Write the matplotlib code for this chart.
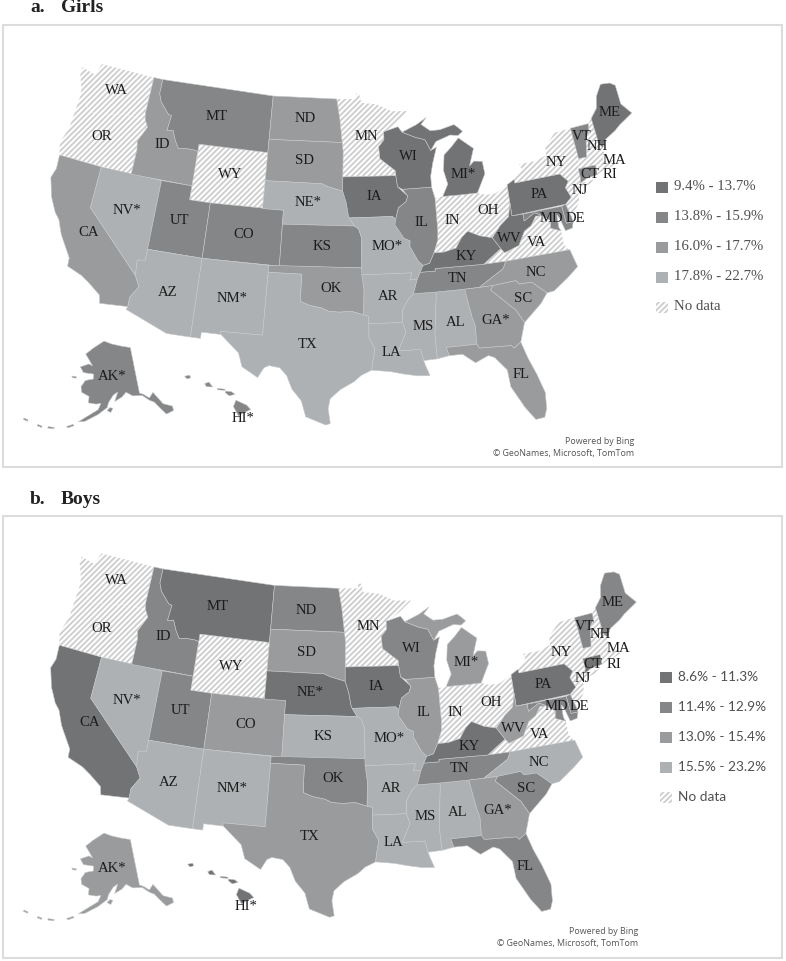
import numpy as np
import matplotlib
matplotlib.use("Agg")
import matplotlib.pyplot as plt
from matplotlib.patches import Polygon, Rectangle

plt.rcParams["hatch.linewidth"] = 1.3

# State outlines (lon, lat)
WA = [(-124.7,48.4),(-123.2,48.15),(-122.8,49.0),(-117.03,49.0),(-117.04,46.42),(-116.92,45.99),(-118.98,46.0),(-119.3,45.93),(-121.2,45.65),(-122.3,45.55),(-122.75,45.65),(-123.4,46.2),(-124.0,46.25),(-124.1,46.9),(-124.7,47.9)]
OR = [(-124.0,46.25),(-123.4,46.2),(-122.75,45.65),(-122.3,45.55),(-121.2,45.65),(-119.3,45.93),(-118.98,46.0),(-116.92,45.99),(-116.5,45.5),(-117.2,44.4),(-117.03,43.8),(-117.03,42.0),(-124.2,42.0),(-124.55,42.85),(-124.1,44.0)]
CA = [(-124.2,42.0),(-120.0,42.0),(-120.0,39.0),(-114.63,35.0),(-114.13,34.26),(-114.72,33.4),(-114.72,32.72),(-117.12,32.53),(-117.3,33.1),(-118.4,33.75),(-119.2,34.15),(-120.6,34.55),(-120.65,35.15),(-121.9,36.6),(-122.5,37.6),(-123.0,38.0),(-123.75,39.0),(-124.35,40.3),(-124.1,41.0)]
NV = [(-120,42),(-114.04,42),(-114.04,36.2),(-114.75,36.1),(-114.63,35),(-120,39)]
ID = [(-117.03,49),(-116.05,49),(-116.05,48.0),(-115.7,47.45),(-114.7,46.7),(-114.35,46.65),(-114.5,45.55),(-113.9,45.65),(-113.45,44.95),(-113,44.45),(-112.3,44.55),(-111.5,44.55),(-111.05,44.48),(-111.05,42),(-117.03,42),(-117.03,43.8),(-117.2,44.4),(-116.5,45.5),(-116.92,45.99),(-117.04,46.42)]
MT = [(-116.05,49),(-104.05,49),(-104.05,45),(-111.05,45),(-111.05,44.48),(-111.5,44.55),(-112.3,44.55),(-113,44.45),(-113.45,44.95),(-113.9,45.65),(-114.5,45.55),(-114.35,46.65),(-114.7,46.7),(-115.7,47.45),(-116.05,48)]
WY = [(-111.05,45),(-104.05,45),(-104.05,41),(-111.05,41)]
UT = [(-114.04,42),(-111.05,42),(-111.05,41),(-109.05,41),(-109.05,37),(-114.04,37)]
CO = [(-109.05,41),(-102.05,41),(-102.05,37),(-109.05,37)]
AZ = [(-114.04,37),(-109.05,37),(-109.05,31.33),(-111.07,31.33),(-114.81,32.5),(-114.72,32.72),(-114.72,33.4),(-114.13,34.26),(-114.63,35),(-114.75,36.1),(-114.04,36.2)]
NM = [(-109.05,37),(-103.0,37),(-103.04,32),(-106.62,32),(-106.53,31.78),(-108.2,31.78),(-108.2,31.33),(-109.05,31.33)]
ND = [(-104.05,49),(-97.23,49),(-96.85,47.6),(-96.56,45.94),(-104.05,45.94)]
SD = [(-104.05,45.94),(-96.56,45.94),(-96.45,45.3),(-96.45,43.5),(-96.44,42.49),(-97.9,42.8),(-98.5,43.0),(-104.05,43)]
NE = [(-104.05,43),(-98.5,43),(-97.9,42.8),(-96.44,42.49),(-96.1,41.7),(-95.85,40.7),(-95.31,40),(-102.05,40),(-102.05,41),(-104.05,41)]
KS = [(-102.05,40),(-95.31,40),(-94.9,39.8),(-94.61,39.1),(-94.62,37),(-102.05,37)]
OK = [(-103,37),(-94.62,37),(-94.43,35.4),(-94.48,33.64),(-95.5,33.9),(-96.6,33.85),(-97.5,33.9),(-98.1,34.13),(-99.2,34.3),(-100,34.56),(-100,36.5),(-103,36.5)]
TX = [(-106.62,32),(-103.04,32),(-103,36.5),(-100,36.5),(-100,34.56),(-99.2,34.3),(-98.1,34.13),(-97.5,33.9),(-96.6,33.85),(-95.5,33.9),(-94.48,33.64),(-94.04,33.55),(-94.04,32),(-93.55,31.2),(-93.75,30.3),(-93.85,29.7),(-94.7,29.35),(-95.3,28.9),(-96.4,28.35),(-97.2,27.7),(-97.35,27.0),(-97.15,25.96),(-97.5,25.85),(-99.1,26.4),(-99.5,27.5),(-100.3,28.3),(-100.8,29.25),(-101.4,29.77),(-102.3,29.88),(-102.7,29.7),(-103.15,28.98),(-104.5,29.65),(-104.9,30.6),(-106.53,31.78)]
MN = [(-97.23,49),(-95.15,49),(-95.15,49.38),(-94.8,49.3),(-94.6,48.72),(-93.0,48.6),(-91.4,48.07),(-89.6,48.0),(-90.8,47.3),(-92.05,46.7),(-92.29,46.66),(-92.29,46.08),(-92.85,45.6),(-92.75,44.75),(-91.25,43.85),(-91.22,43.5),(-96.45,43.5),(-96.45,45.3),(-96.56,45.94),(-96.85,47.6)]
IA = [(-96.45,43.5),(-91.22,43.5),(-91.1,42.7),(-90.15,42.0),(-90.35,41.6),(-91.1,41.2),(-91.4,40.4),(-91.7,40.6),(-95.77,40.58),(-95.85,40.7),(-96.1,41.7),(-96.44,42.49)]
MO = [(-95.77,40.58),(-91.7,40.6),(-91.4,40.4),(-91.5,40.0),(-90.7,39.0),(-90.15,38.8),(-90.2,38.4),(-89.5,37.3),(-89.1,36.97),(-89.4,36.5),(-89.7,36),(-90.37,36),(-90.15,36.5),(-94.62,36.5),(-94.62,37),(-94.61,39.1),(-94.9,39.8),(-95.31,40)]
AR = [(-94.62,36.5),(-90.15,36.5),(-90.37,36),(-89.7,36),(-90.1,35.0),(-90.6,34.6),(-91.1,33.9),(-91.15,33.0),(-94.04,33.0),(-94.04,33.55),(-94.48,33.64),(-94.43,35.4)]
LA = [(-94.04,33),(-91.15,33),(-90.9,32.3),(-91.6,31),(-89.73,31),(-89.55,30.2),(-89.4,29.8),(-89.1,29.1),(-90.1,29.15),(-91.3,29.35),(-92.3,29.55),(-93.85,29.7),(-93.75,30.3),(-93.55,31.2),(-94.04,32)]
MS = [(-90.1,35.0),(-88.2,35),(-88.1,34.9),(-88.47,31.9),(-88.4,30.25),(-89.55,30.2),(-89.73,31),(-91.6,31),(-90.9,32.3),(-91.15,33),(-91.1,33.9),(-90.6,34.6)]
AL = [(-88.2,35),(-85.6,35),(-85.18,32.87),(-85.0,32.3),(-85.05,31),(-87.6,31),(-87.4,30.4),(-88.4,30.25),(-88.47,31.9),(-88.1,34.9)]
TN = [(-89.7,36),(-89.4,36.5),(-88.05,36.5),(-88.05,36.68),(-83.68,36.6),(-81.68,36.59),(-82.0,36.1),(-84.3,35.0),(-85.6,35),(-88.2,35),(-90.1,35)]
KY = [(-89.4,36.5),(-89.1,36.97),(-88.5,37.1),(-88.05,37.8),(-87.1,37.8),(-86.0,38.0),(-85.4,38.7),(-84.8,39.1),(-83.7,38.65),(-82.6,38.4),(-81.97,37.54),(-83.68,36.6),(-88.05,36.68),(-88.05,36.5)]
IL = [(-91.5,40),(-91.4,40.4),(-91.1,41.2),(-90.35,41.6),(-90.15,42.0),(-90.65,42.5),(-87.8,42.5),(-87.55,41.7),(-87.53,39.35),(-87.6,38.7),(-88.05,37.8),(-88.5,37.1),(-89.1,36.97),(-89.5,37.3),(-90.2,38.4),(-90.15,38.8),(-90.7,39.0)]
WI = [(-92.29,46.66),(-92.05,46.7),(-90.8,46.95),(-90.4,46.55),(-89.1,46.13),(-88.1,45.9),(-87.6,45.1),(-87.0,45.3),(-87.5,44.2),(-87.8,43.3),(-87.8,42.5),(-90.65,42.5),(-91.1,42.7),(-91.22,43.5),(-91.25,43.85),(-92.75,44.75),(-92.85,45.6),(-92.29,46.08)]
MI = [(-86.8,41.76),(-84.8,41.73),(-83.45,41.72),(-83.1,42.2),(-82.5,43.0),(-82.6,43.9),(-83.4,44.0),(-83.9,43.7),(-83.3,44.9),(-84.7,45.78),(-85.5,45.2),(-86.3,44.7),(-86.5,43.6),(-86.2,42.6)]
MI_UP = [(-90.4,46.55),(-89.1,46.13),(-88.1,45.9),(-87.6,45.1),(-87.0,45.7),(-85.5,46.05),(-84.7,45.95),(-84.2,46.2),(-84.6,46.5),(-85.0,46.75),(-86.5,46.5),(-87.5,46.5),(-88.4,47.0),(-87.8,47.45),(-88.9,47.0)]
IN = [(-87.53,41.7),(-86.8,41.76),(-84.8,41.73),(-84.8,39.1),(-85.4,38.7),(-86.0,38.0),(-87.1,37.8),(-88.05,37.8),(-87.6,38.7),(-87.53,39.35)]
OH = [(-84.8,41.73),(-83.45,41.72),(-82.7,41.5),(-81.7,41.5),(-80.52,41.98),(-80.52,40.64),(-80.85,39.7),(-81.7,39.2),(-82.6,38.4),(-83.7,38.65),(-84.8,39.1)]
PA = [(-80.52,41.98),(-79.76,42.27),(-79.76,42.0),(-75.35,42.0),(-74.7,41.36),(-75.1,40.95),(-74.75,40.2),(-75.4,39.8),(-80.52,39.72)]
NY = [(-79.76,42.0),(-79.76,42.27),(-78.9,42.9),(-79.05,43.27),(-77.5,43.27),(-76.3,43.5),(-76.2,44.1),(-75.0,44.95),(-73.35,45.0),(-73.3,44.0),(-73.25,42.75),(-73.5,42.05),(-73.5,41.3),(-73.65,41.0),(-72.0,41.05),(-72.5,40.85),(-74.0,40.6),(-74.0,41.0),(-74.7,41.36),(-75.35,42.0)]
VT = [(-73.35,45),(-71.5,45),(-71.6,44.5),(-72.05,44.1),(-72.45,42.73),(-73.25,42.75),(-73.3,44)]
NH = [(-71.5,45),(-71.08,45.3),(-70.98,43.4),(-70.7,43.07),(-70.8,42.87),(-72.45,42.73),(-72.05,44.1),(-71.6,44.5)]
ME = [(-71.08,45.3),(-70.3,45.9),(-70.0,46.7),(-69.25,47.45),(-68.3,47.35),(-67.8,47.07),(-67.8,45.7),(-67.0,44.85),(-68.5,44.3),(-69.1,44.0),(-70.2,43.6),(-70.7,43.07),(-70.98,43.4)]
MA = [(-73.5,42.05),(-73.25,42.75),(-72.45,42.73),(-70.8,42.87),(-70.6,42.65),(-71.0,42.3),(-70.6,41.95),(-70.05,42.05),(-69.95,41.7),(-70.65,41.55),(-71.12,41.5),(-71.38,42.02),(-71.8,42.02)]
CT = [(-73.5,42.05),(-71.8,42.02),(-71.85,41.32),(-72.9,41.25),(-73.65,41.0),(-73.5,41.3)]
RI = [(-71.8,42.02),(-71.38,42.02),(-71.12,41.5),(-71.85,41.32)]
NJ = [(-75.1,40.95),(-74.7,41.36),(-74.0,41.0),(-74.0,40.45),(-74.1,39.75),(-74.9,38.95),(-75.5,39.5),(-75.4,39.8),(-74.75,40.2)]
DE = [(-75.8,39.72),(-75.4,39.8),(-75.1,38.8),(-75.05,38.45),(-75.7,38.46)]
MD = [(-79.48,39.72),(-75.8,39.72),(-75.7,38.46),(-75.05,38.45),(-75.25,38.03),(-75.9,37.95),(-76.2,38.9),(-76.4,39.2),(-76.45,38.3),(-76.3,38.0),(-77.2,38.35),(-77.05,38.85),(-77.75,39.35),(-78.4,39.65),(-79.48,39.2)]
WV = [(-80.52,40.64),(-80.52,39.72),(-79.48,39.72),(-79.48,39.2),(-78.4,39.65),(-77.75,39.35),(-78.35,39.4),(-78.9,38.8),(-79.6,38.5),(-80.3,37.55),(-81.68,37.2),(-81.97,37.54),(-82.6,38.4),(-81.7,39.2),(-80.85,39.7)]
VA = [(-83.68,36.6),(-81.97,37.54),(-81.68,37.2),(-80.3,37.55),(-79.6,38.5),(-78.9,38.8),(-78.35,39.4),(-77.75,39.35),(-77.05,38.85),(-77.2,38.35),(-76.3,38.0),(-76.3,37.0),(-75.95,36.55),(-81.68,36.59)]
NC = [(-84.3,35),(-82.0,36.1),(-81.68,36.59),(-75.87,36.55),(-75.5,35.25),(-76.5,34.65),(-77.9,33.9),(-78.55,33.85),(-79.7,34.8),(-80.8,34.82),(-81.05,35.1),(-83.1,35.0)]
SC = [(-83.1,35),(-81.05,35.1),(-80.8,34.82),(-79.7,34.8),(-78.55,33.85),(-79.2,33.2),(-80.85,32.05),(-81.4,33.0),(-83.35,34.7)]
GA = [(-85.6,35),(-84.3,35),(-83.1,35),(-83.35,34.7),(-81.4,33.0),(-80.85,32.05),(-81.4,30.72),(-82.0,30.37),(-82.2,30.57),(-84.86,30.7),(-85.05,31),(-85.0,32.3),(-85.18,32.87)]
FL = [(-87.6,31),(-85.05,31),(-84.86,30.7),(-82.2,30.57),(-82.0,30.37),(-81.4,30.72),(-81.0,29.5),(-80.5,28.3),(-80.05,26.9),(-80.15,25.75),(-80.4,25.2),(-81.1,25.15),(-81.8,26.1),(-82.7,27.7),(-82.8,28.9),(-83.7,29.9),(-84.2,30.1),(-85.3,29.7),(-86.3,30.4),(-87.4,30.4)]
AK = [(-141,69.65),(-141,60.3),(-139.5,59.9),(-137.5,58.9),(-135.5,59.8),(-133,57),(-130,55.9),(-130.2,55.0),(-133,54.8),(-134.5,56.3),(-136,57.8),(-137.8,58.5),(-140,59.7),(-144,60.0),(-146.5,60.9),(-148.5,60.0),(-151.5,59.2),(-150.0,61.1),(-152,60.5),(-154,59),(-154.5,58.0),(-158,56.5),(-162.5,54.9),(-164.8,54.6),(-162,55.9),(-158,57.5),(-157,58.8),(-159,58.6),(-162,58.7),(-162,60),(-165.3,60.6),(-166,61.7),(-164.5,63.1),(-161,63.6),(-161,64.6),(-166,64.6),(-168,65.6),(-164,66.5),(-162,66.2),(-163.7,67.1),(-166.5,68.35),(-163,69.7),(-156.6,71.35),(-152,70.8),(-146,70.2)]
AK_ISLANDS = [
    [(-154.6,57.4),(-153.4,58.0),(-152.3,57.8),(-153.2,57.0)],
    [(-171,63.4),(-169,63.5),(-168.8,63.2),(-170.5,63.1)],
    [(-168.5,53.2),(-166.5,53.9),(-166,53.7),(-168,53.0)],
    [(-174.5,52.2),(-172.5,52.4),(-172.5,52.1),(-174.5,51.9)],
    [(-178,51.9),(-176.5,51.9),(-176.5,51.6),(-178,51.6)],
    [(177.0,52.0),(178.5,52.0),(178.5,51.7),(177.0,51.7)],
]
HI_BIG = [(-155.9,20.25),(-155.1,19.85),(-154.8,19.5),(-155.65,18.95),(-156.05,19.7)]
HI_MAUI = [(-156.7,21.0),(-156.25,20.95),(-156.0,20.75),(-156.4,20.6),(-156.7,20.85)]
HI_MOLOKAI = [(-157.3,21.2),(-156.75,21.15),(-156.75,21.05),(-157.3,21.08)]
HI_OAHU = [(-158.25,21.55),(-157.95,21.7),(-157.65,21.3),(-158.1,21.3)]
HI_KAUAI = [(-159.75,22.1),(-159.4,22.22),(-159.3,22.0),(-159.55,21.88)]

STATES = {
    "WA": [WA], "OR": [OR], "CA": [CA], "NV": [NV], "ID": [ID], "MT": [MT], "WY": [WY], "UT": [UT], "CO": [CO],
    "AZ": [AZ], "NM": [NM], "ND": [ND], "SD": [SD], "NE": [NE], "KS": [KS], "OK": [OK], "TX": [TX], "MN": [MN],
    "IA": [IA], "MO": [MO], "AR": [AR], "LA": [LA], "MS": [MS], "AL": [AL], "TN": [TN], "KY": [KY], "IL": [IL],
    "WI": [WI], "MI": [MI, MI_UP], "IN": [IN], "OH": [OH], "PA": [PA], "NY": [NY], "VT": [VT], "NH": [NH], "ME": [ME],
    "MA": [MA], "CT": [CT], "RI": [RI], "NJ": [NJ], "DE": [DE], "MD": [MD], "WV": [WV], "VA": [VA], "NC": [NC],
    "SC": [SC], "GA": [GA], "FL": [FL],
}

# Prevalence class of each state, darkest to lightest
girls_classes = [
    ["ME", "WI", "IA", "KY", "MI", "PA", "WV"],
    ["MT", "UT", "CO", "KS", "IL", "TN", "VT", "CT", "MD", "DE", "AK", "HI"],
    ["ID", "ND", "SD", "OK", "CA", "GA", "SC", "NC", "FL"],
    ["NV", "NE", "MO", "AR", "LA", "MS", "AL", "TX", "NM", "AZ"],
]
boys_classes = [
    ["MT", "CA", "NE", "IA", "KY", "PA", "CT", "HI"],
    ["ME", "VT", "ID", "UT", "ND", "FL", "WI", "SC", "TN", "OK", "MD", "DE"],
    ["AK", "SD", "CO", "TX", "MI", "IL", "WV", "GA"],
    ["NV", "AZ", "NM", "KS", "MO", "AR", "LA", "MS", "AL", "NC"],
]
no_data = ["WA", "OR", "MN", "WY", "IN", "OH", "NY", "VA", "NJ", "NH", "MA", "RI"]

girls_legend = ["9.4% - 13.7%", "13.8% - 15.9%", "16.0% - 17.7%", "17.8% - 22.7%", "No data"]
boys_legend = ["8.6% - 11.3%", "11.4% - 12.9%", "13.0% - 15.4%", "15.5% - 23.2%", "No data"]
starred_states = ["NV", "NE", "MO", "NM", "MI", "GA", "AK", "HI"]

girls_labels = {"WA":(116,91),"OR":(102,137),"MT":(217,117),"ND":(305,119),"MN":(366,136),"ID":(162,145),"SD":(305,161),
    "WY":(230,175),"NE":(308,203),"IA":(374,196),"NV":(127,210),"UT":(179,221),"CO":(244,234),"CA":(89,233),"KS":(322,246),
    "MO":(387,247),"AZ":(168,292),"NM":(232,298),"OK":(331,288),"AR":(388,296),"TX":(308,345),"LA":(391,352),"AK":(112,377),
    "HI":(243,418),"MS":(423,326),"AL":(456,323),"GA":(496,320),"FL":(521,374),"NY":(556,162),"VT":(582,137),"NH":(597,146),
    "MA":(614,161),"CT":(590,175),"RI":(610,175),"NJ":(580,191),"PA":(539,194),"OH":(488,211),"IN":(452,221),"IL":(421,222),
    "WV":(509,238),"VA":(537,243),"KY":(466,256),"TN":(457,279),"NC":(536,272),"SC":(523,298),"WI":(408,157),"MI":(463,174),
    "ME":(610,112),"MD":(551,219),"DE":(575,219)}
boys_labels = {"WA":(116,581),"OR":(102,628),"MT":(218,606),"ID":(163,636),"ND":(306,610),"SD":(306,652),"WY":(231,666),
    "NV":(127,700),"UT":(180,711),"CO":(246,725),"CA":(90,723),"NE":(310,693),"KS":(323,736),"IA":(376,686),"MN":(368,627),
    "WI":(411,648),"MI":(466,663),"IL":(423,713),"IN":(455,713),"OH":(491,702),"MO":(389,739),"AZ":(169,783),"NM":(232,789),
    "OK":(333,779),"TX":(310,837),"AR":(391,788),"LA":(393,842),"MS":(425,817),"AL":(458,813),"GA":(498,810),"SC":(526,789),
    "NC":(539,763),"TN":(460,769),"KY":(469,746),"WV":(513,728),"VA":(540,734),"PA":(543,685),"NY":(561,652),"VT":(585,626),
    "NH":(600,634),"MA":(618,649),"RI":(614,665),"CT":(593,665),"NJ":(583,679),"MD":(556,707),"DE":(579,707),"ME":(613,602),
    "FL":(525,867),"AK":(112,869),"HI":(246,906)}

# Reference points: (lon, lat) and where they sit in the picture
us_geo = [(-124.7,48.4),(-67.0,44.85),(-80.4,25.2),(-97.15,25.96),(-117.12,32.53),(-109.05,41),(-97.23,49)]
girls_px = [(80,68),(633,113),(543,418),(330,423),(102,303),(211,203),(337,98)]
boys_px = [(80,557),(637,602),(550,910),(333,915),(103,795),(212,693),(339,588)]
ak_geo = [(-156.6,71.35),(-141,69.65),(-141,60.3),(-130.2,55),(-168,65.6),(-164.8,54.6)]
ak_px = [(104,342),(130,347),(139,394),(174,410),(81,366),(78,422)]
hi_geo = [(-159.5,22.05),(-155.5,19.6),(-158,21.45)]
hi_px = [(188,377),(241,408),(208,385)]

COLORS = ["#727375", "#858688", "#999b9c", "#aeb1b3"]
HATCH_COLOR = "#cdcdcd"


def conic(points, lon0=-96.0, lat1=37.5):
    pts = np.radians(np.array(points, dtype=float))
    # wrap islands past the date line
    pts[:, 0] = np.where(pts[:, 0] > 0, pts[:, 0] - 2 * np.pi, pts[:, 0])
    n = np.sin(np.radians(lat1))
    rho = np.tan(np.pi / 4 + pts[:, 1] / 2) ** (-n)
    theta = n * (pts[:, 0] - np.radians(lon0))
    return np.column_stack([rho * np.sin(theta), -rho * np.cos(theta)])


def fit(geo, px, **kw):
    xy = conic(geo, **kw)
    a = np.column_stack([xy, np.ones(len(xy))])
    coef = np.linalg.lstsq(a, np.array(px, dtype=float), rcond=None)[0]
    return lambda pts: np.column_stack([conic(pts, **kw), np.ones(len(pts))]) @ coef


def draw_poly(ax, xy, code):
    if code is None:
        ax.add_patch(Polygon(xy, closed=True, facecolor="white", edgecolor=HATCH_COLOR, hatch="//////", lw=0, zorder=2))
    else:
        ax.add_patch(Polygon(xy, closed=True, facecolor=COLORS[code], edgecolor="#c6c8c9", lw=0.4, zorder=3))


def draw_panel(ax, letter, title, title_y, frame, classes, us_px, labels, legend, leg_x, leg_y, leg_font, leg_size, credit):
    ax.text(30, title_y, letter, family="Liberation Serif", weight="bold", fontsize=14, color="#222222", va="center")
    ax.text(61, title_y, title, family="Liberation Serif", weight="bold", fontsize=14, color="#222222", va="center")
    ax.add_patch(Rectangle((frame[0], frame[1]), frame[2], frame[3], facecolor="white", edgecolor="#dcdcdc", lw=1.5, zorder=1))

    lookup = {s: i for i, group in enumerate(classes) for s in group}
    us = fit(us_geo, us_px)
    for name, parts in STATES.items():
        for part in parts:
            draw_poly(ax, us(part), lookup.get(name))

    # insets sit at a fixed shift from panel a
    dy_ak = labels["AK"][1] - 377
    dx_hi, dy_hi = labels["HI"][0] - 243, labels["HI"][1] - 418
    ak = fit(ak_geo, [(x, y + dy_ak) for x, y in ak_px], lon0=-150.0, lat1=60.0)
    hi = fit(hi_geo, [(x + dx_hi, y + dy_hi) for x, y in hi_px], lon0=-157.0, lat1=20.0)
    for part in [AK] + AK_ISLANDS:
        draw_poly(ax, ak(part), lookup["AK"])
    for part in [HI_BIG, HI_MAUI, HI_MOLOKAI, HI_OAHU, HI_KAUAI]:
        draw_poly(ax, hi(part), lookup["HI"])

    for name, (x, y) in labels.items():
        text = name + "*" if name in starred_states else name
        ax.text(x, y, text, family="Liberation Serif", fontsize=10.6, color="#1c1c1c", ha="center", va="center", zorder=5)

    for i, text in enumerate(legend):
        y = leg_y + i * 30
        if i < 4:
            ax.add_patch(Rectangle((leg_x, y - 5.5), 11.5, 11, facecolor=COLORS[i], lw=0, zorder=3))
        else:
            ax.add_patch(Rectangle((leg_x, y - 5.5), 11.5, 11, facecolor="white", edgecolor=HATCH_COLOR, hatch="//////", lw=0, zorder=3))
        ax.text(leg_x + 17.5, y, text, family=leg_font, fontsize=leg_size, color="#505050", va="center", zorder=5)

    ax.text(credit[0], credit[1], "Powered by Bing", family="Open Sans", fontsize=6.4, color="#555555", ha="right", va="center")
    ax.text(credit[0], credit[1] + 12.5, "© GeoNames, Microsoft, TomTom", family="Open Sans", fontsize=6.4, color="#555555", ha="right", va="center")


fig = plt.figure(figsize=(7.86, 9.61), dpi=100)
ax = fig.add_axes([0, 0, 1, 1])
ax.set_xlim(0, 786)
ax.set_ylim(961, 0)
ax.axis("off")

draw_panel(ax, "a.", "Girls", 7, (3, 24.5, 779, 442.5), girls_classes, girls_px, girls_labels,
           girls_legend, 656, 187, "Liberation Serif", 10.7, (634, 441))
draw_panel(ax, "b.", "Boys", 499, (3, 515.5, 779, 442.5), boys_classes, boys_px, boys_labels,
           boys_legend, 660, 677, "Lato", 9.8, (638, 931))

fig.savefig("out.png", dpi=100, facecolor="white")
